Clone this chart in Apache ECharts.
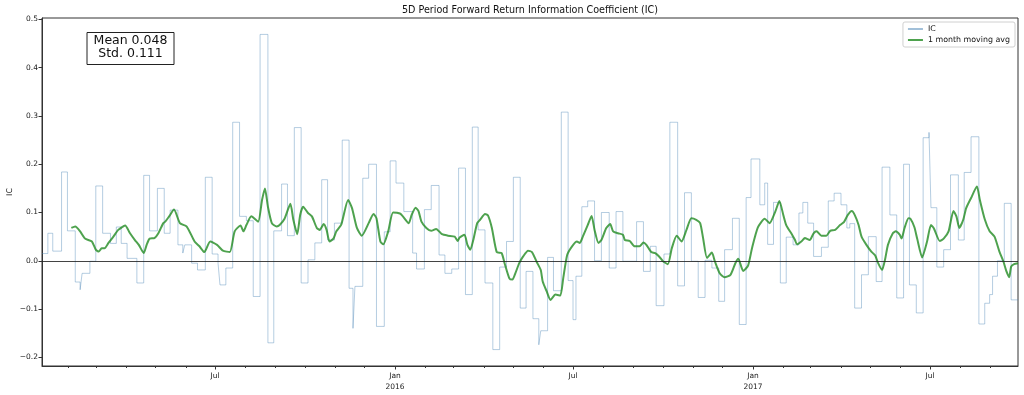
<!DOCTYPE html>
<html><head><meta charset="utf-8">
<script src="https://cdn.jsdelivr.net/npm/echarts@6/dist/echarts.min.js"></script>
<style>html,body{margin:0;padding:0;background:#fff}#c{width:1024px;height:395px}</style>
</head><body><div id="c"></div>
<script>
const titleText = '5D Period Forward Return Information Coefficient (IC)';
const statsLines = ['Mean 0.048', 'Std. 0.111'];

const icDates = ['2015-01-05','2015-01-11','2015-01-16','2015-01-25','2015-01-31','2015-02-08','2015-02-13','2015-02-15','2015-02-23','2015-03-01','2015-03-08','2015-03-16','2015-03-22','2015-03-27','2015-04-02','2015-04-12','2015-04-19','2015-04-25','2015-05-03','2015-05-10','2015-05-16','2015-05-24','2015-05-29','2015-05-31','2015-06-07','2015-06-13','2015-06-21','2015-06-28','2015-07-04','2015-07-06','2015-07-12','2015-07-19','2015-07-26','2015-08-02','2015-08-09','2015-08-16','2015-08-24','2015-08-30','2015-09-07','2015-09-13','2015-09-20','2015-09-27','2015-10-04','2015-10-11','2015-10-18','2015-10-24','2015-10-31','2015-11-08','2015-11-15','2015-11-19','2015-11-21','2015-11-29','2015-12-05','2015-12-13','2015-12-21','2015-12-27','2016-01-02','2016-01-10','2016-01-19','2016-01-23','2016-01-31','2016-02-07','2016-02-15','2016-02-21','2016-02-28','2016-03-06','2016-03-13','2016-03-20','2016-03-26','2016-04-02','2016-04-10','2016-04-17','2016-04-24','2016-05-01','2016-05-08','2016-05-14','2016-05-21','2016-05-27','2016-05-29','2016-06-05','2016-06-11','2016-06-19','2016-06-26','2016-07-01','2016-07-04','2016-07-10','2016-07-16','2016-07-23','2016-07-30','2016-08-07','2016-08-14','2016-08-21','2016-09-04','2016-09-11','2016-09-18','2016-09-24','2016-10-02','2016-10-08','2016-10-16','2016-10-23','2016-10-30','2016-11-06','2016-11-13','2016-11-20','2016-11-27','2016-12-03','2016-12-11','2016-12-18','2016-12-25','2016-12-30','2017-01-08','2017-01-13','2017-01-16','2017-01-22','2017-01-29','2017-02-04','2017-02-11','2017-02-17','2017-02-21','2017-02-26','2017-03-04','2017-03-12','2017-03-19','2017-03-25','2017-04-01','2017-04-07','2017-04-10','2017-04-15','2017-04-22','2017-04-29','2017-05-07','2017-05-13','2017-05-21','2017-05-28','2017-06-04','2017-06-10','2017-06-17','2017-06-24','2017-06-30','2017-07-02','2017-07-08','2017-07-15','2017-07-22','2017-07-30','2017-08-05','2017-08-12','2017-08-20','2017-08-26','2017-08-31','2017-09-03','2017-09-08','2017-09-15','2017-09-22','2017-09-29'];
const icValues = [0.015,0.057,0.02,0.184,0.062,-0.044,-0.06,-0.026,-0.001,0.155,0.057,0.036,0.07,0.036,0.005,-0.046,0.177,0.062,0.15,0.057,0.105,0.033,0.016,0.033,-0.005,-0.019,0.173,0.014,-0.005,-0.05,-0.015,0.287,0.092,0.083,-0.074,0.469,-0.17,0.062,0.159,0.052,0.276,-0.046,0.002,0.037,0.168,0.043,0.078,0.25,-0.057,-0.14,-0.053,0.171,0.2,-0.136,0.06,0.207,0.161,0.102,0.016,-0.017,0.106,0.156,0.012,-0.026,-0.017,0.192,-0.07,0.277,0.064,-0.046,-0.184,-0.013,0.04,0.173,-0.098,-0.022,-0.12,-0.174,-0.145,0.007,-0.062,0.308,-0.041,-0.122,-0.032,0.112,0.124,0.0,0.1,-0.015,0.102,-0.001,0.081,-0.022,0.03,-0.093,0.014,0.287,-0.052,0.141,-0.001,-0.076,0.001,-0.015,-0.084,0.023,0.088,-0.132,0.131,0.211,0.116,0.161,0.034,0.121,-0.046,0.049,0.033,0.099,0.121,0.078,0.009,0.028,0.124,0.14,0.116,0.068,0.077,-0.098,-0.029,0.05,-0.043,0.194,0.095,-0.077,0.2,-0.05,-0.108,0.255,0.266,0.11,-0.013,0.023,0.178,0.043,0.183,0.257,-0.131,-0.088,-0.07,-0.032,0.0,0.119,-0.081,-0.081];

const maDates = ['2015-02-04','2015-02-08','2015-02-13','2015-02-18','2015-02-25','2015-03-01','2015-03-04','2015-03-07','2015-03-10','2015-03-14','2015-03-19','2015-03-24','2015-03-31','2015-04-05','2015-04-10','2015-04-14','2015-04-19','2015-04-22','2015-04-25','2015-04-30','2015-05-04','2015-05-09','2015-05-11','2015-05-15','2015-05-20','2015-05-26','2015-06-02','2015-06-10','2015-06-15','2015-06-20','2015-06-26','2015-07-03','2015-07-09','2015-07-16','2015-07-21','2015-07-27','2015-07-30','2015-08-02','2015-08-07','2015-08-14','2015-08-18','2015-08-21','2015-08-24','2015-08-28','2015-09-02','2015-09-05','2015-09-10','2015-09-16','2015-09-19','2015-09-23','2015-09-26','2015-09-29','2015-10-04','2015-10-08','2015-10-13','2015-10-16','2015-10-20','2015-10-23','2015-10-26','2015-10-30','2015-11-02','2015-11-07','2015-11-14','2015-11-18','2015-11-23','2015-11-28','2015-12-05','2015-12-10','2015-12-13','2015-12-17','2015-12-20','2015-12-25','2015-12-30','2016-01-06','2016-01-09','2016-01-15','2016-01-18','2016-01-22','2016-01-25','2016-01-28','2016-02-02','2016-02-07','2016-02-12','2016-02-18','2016-02-24','2016-03-02','2016-03-05','2016-03-07','2016-03-12','2016-03-15','2016-03-18','2016-03-21','2016-03-25','2016-03-28','2016-04-02','2016-04-05','2016-04-09','2016-04-14','2016-04-19','2016-04-22','2016-04-27','2016-04-30','2016-05-03','2016-05-07','2016-05-11','2016-05-16','2016-05-20','2016-05-25','2016-05-29','2016-05-31','2016-06-04','2016-06-08','2016-06-13','2016-06-18','2016-06-21','2016-06-25','2016-06-30','2016-07-05','2016-07-08','2016-07-11','2016-07-16','2016-07-20','2016-07-23','2016-07-27','2016-07-30','2016-08-04','2016-08-08','2016-08-11','2016-08-16','2016-08-21','2016-08-23','2016-08-28','2016-09-02','2016-09-07','2016-09-11','2016-09-14','2016-09-19','2016-09-23','2016-09-27','2016-10-01','2016-10-06','2016-10-10','2016-10-15','2016-10-20','2016-10-25','2016-10-30','2016-11-04','2016-11-08','2016-11-11','2016-11-15','2016-11-20','2016-11-23','2016-11-28','2016-12-03','2016-12-09','2016-12-14','2016-12-17','2016-12-22','2016-12-27','2016-12-31','2017-01-06','2017-01-13','2017-01-18','2017-01-24','2017-01-28','2017-02-01','2017-02-04','2017-02-10','2017-02-13','2017-02-15','2017-02-20','2017-02-23','2017-02-28','2017-03-04','2017-03-07','2017-03-12','2017-03-17','2017-03-21','2017-03-26','2017-03-31','2017-04-04','2017-04-08','2017-04-12','2017-04-15','2017-04-19','2017-04-22','2017-04-27','2017-05-02','2017-05-06','2017-05-09','2017-05-13','2017-05-16','2017-05-19','2017-05-24','2017-05-27','2017-05-31','2017-06-02','2017-06-05','2017-06-09','2017-06-11','2017-06-15','2017-06-18','2017-06-23','2017-06-28','2017-07-02','2017-07-05','2017-07-11','2017-07-15','2017-07-20','2017-07-25','2017-07-28','2017-07-31','2017-08-04','2017-08-07','2017-08-12','2017-08-18','2017-08-21','2017-08-26','2017-08-31','2017-09-05','2017-09-10','2017-09-14','2017-09-17','2017-09-20','2017-09-22','2017-09-25','2017-09-29'];
const maValues = [0.068,0.071,0.061,0.046,0.04,0.023,0.019,0.026,0.026,0.037,0.05,0.064,0.073,0.057,0.043,0.033,0.016,0.033,0.046,0.047,0.057,0.078,0.081,0.092,0.106,0.078,0.071,0.04,0.03,0.018,0.04,0.033,0.021,0.018,0.061,0.073,0.061,0.074,0.092,0.081,0.126,0.15,0.112,0.078,0.071,0.074,0.087,0.118,0.085,0.055,0.095,0.112,0.099,0.092,0.068,0.064,0.076,0.064,0.04,0.046,0.061,0.075,0.126,0.109,0.068,0.052,0.078,0.097,0.088,0.04,0.034,0.061,0.1,0.098,0.092,0.078,0.095,0.11,0.103,0.081,0.068,0.062,0.066,0.055,0.052,0.05,0.041,0.048,0.054,0.033,0.023,0.043,0.078,0.085,0.097,0.094,0.068,0.018,0.016,-0.005,-0.037,-0.039,-0.026,-0.005,0.009,0.021,0.018,-0.003,-0.019,-0.043,-0.063,-0.081,-0.07,-0.072,-0.036,0.012,0.03,0.04,0.037,0.05,0.074,0.093,0.064,0.037,0.043,0.068,0.076,0.061,0.057,0.054,0.043,0.041,0.03,0.03,0.038,0.033,0.018,0.016,0.009,-0.001,-0.007,0.026,0.052,0.04,0.064,0.088,0.085,0.078,0.047,0.006,0.017,-0.001,-0.026,-0.034,-0.029,-0.005,0.004,-0.021,-0.01,0.026,0.069,0.087,0.078,0.103,0.124,0.095,0.074,0.054,0.043,0.034,0.041,0.047,0.043,0.057,0.061,0.052,0.052,0.062,0.064,0.074,0.08,0.095,0.103,0.095,0.074,0.05,0.033,0.019,0.011,-0.005,-0.019,0.002,0.033,0.057,0.061,0.054,0.046,0.068,0.088,0.087,0.07,0.045,0.007,0.04,0.074,0.067,0.041,0.046,0.061,0.103,0.092,0.068,0.085,0.109,0.13,0.154,0.126,0.086,0.061,0.05,0.019,-0.001,-0.021,-0.034,-0.012,-0.007,-0.005];

const yTicks = [-0.2,-0.1,0.0,0.1,0.2,0.3,0.4,0.5];
const xMajorDates = ['2015-07-01','2016-01-01','2016-07-01','2017-01-01','2017-07-01'];
const xMajorLabels = ['Jul','Jan\n2016','Jul','Jan\n2017','Jul'];
const xMin = '2015-01-05', xMax = '2017-09-29';

function ts(s){const p=s.split('-').map(Number);return Date.UTC(p[0],p[1]-1,p[2]);}
const majorTs = xMajorDates.map(ts);
const minorTs = [];
for (let y=2015; y<=2017; y++) for (let m=0; m<12; m++) {
  const t = Date.UTC(y,m,1);
  if (t > ts(xMin) && t <= ts(xMax)) minorTs.push(t);
}
const icData = icDates.map((d,i)=>[ts(d), icValues[i]]);
const maData = maDates.map((d,i)=>[ts(d), maValues[i]]);
const FONT = 'DejaVu Sans';
const chart = echarts.init(document.getElementById('c'), null, {renderer:'canvas'});
chart.setOption({
  animation:false,
  backgroundColor:'#fff',
  textStyle:{fontFamily:FONT},
  title:{text:titleText, left:530, top:5.5, textAlign:'center', padding:0,
    textStyle:{fontFamily:FONT,fontSize:9.6,fontWeight:'normal',color:'#111'}},
  grid:{left:42, right:6, top:18, bottom:29, show:true, borderColor:'#333', borderWidth:1,
    backgroundColor:'transparent', outerBoundsMode:'none', containLabel:false},
  legend:{orient:'vertical', right:9, top:22, itemWidth:15, itemHeight:8, itemGap:3,
    padding:[3,5,3,4], borderColor:'#d0d0d0', borderWidth:1, borderRadius:2, backgroundColor:'rgba(255,255,255,0.8)',
    itemStyle:{opacity:0},
    textStyle:{fontFamily:FONT,fontSize:7.9,color:'#111'}, data:['IC','1 month moving avg']},
  xAxis:[{type:'value', min:ts(xMin), max:ts(xMax), position:'bottom', scale:true,
    axisLine:{show:true,onZero:false,lineStyle:{color:'#333',width:1}},
    axisTick:{show:true, customValues:majorTs, length:3.5, lineStyle:{color:'#333'}},
    axisLabel:{show:true, customValues:majorTs, margin:4.5, fontFamily:FONT, fontSize:7.5, color:'#222', lineHeight:11,
      formatter:function(v){const i=majorTs.indexOf(v);return i>=0?xMajorLabels[i]:'';}},
    splitLine:{show:false}},
   {type:'value', min:ts(xMin), max:ts(xMax), position:'bottom', scale:true,
    axisLine:{show:false,onZero:false},
    axisTick:{show:true, customValues:minorTs, length:2, lineStyle:{color:'#333'}},
    axisLabel:{show:false}, splitLine:{show:false}}],
  yAxis:{type:'value', min:-0.218, max:0.503, name:'IC', nameLocation:'middle', nameGap:28, nameMoveOverlap:false,
    nameTextStyle:{fontFamily:FONT,fontSize:7.9,color:'#111'},
    axisLine:{show:true,onZero:false,lineStyle:{color:'#333',width:1}},
    axisTick:{show:true, customValues:yTicks, length:3.5, lineStyle:{color:'#333'}},
    axisLabel:{show:true, customValues:yTicks, margin:4, fontFamily:FONT, fontSize:7.5, color:'#222',
      formatter:function(v){return (v<0?'\u2212':'')+Math.abs(v).toFixed(1);}},
    splitLine:{show:false}},
  graphic:[
    {type:'rect', z:100, shape:{x:87, y:32.5, width:87, height:32}, style:{fill:'#fff', stroke:'#222', lineWidth:1}},
    {type:'text', z:101, style:{text:statsLines[0], x:130.5, y:41, align:'center', verticalAlign:'middle', fontFamily:FONT, fontSize:12.5, fill:'#111'}},
    {type:'text', z:101, style:{text:statsLines[1], x:130.5, y:53.6, align:'center', verticalAlign:'middle', fontFamily:FONT, fontSize:12.5, fill:'#111'}}
  ],
  series:[
    {name:'IC', type:'line', step:'end', symbol:'none', data:icData, xAxisIndex:0,
     lineStyle:{color:'#4682b4', width:0.8, opacity:0.5},
     markLine:{silent:true, symbol:'none', label:{show:false}, animation:false,
       lineStyle:{color:'#222', width:1, type:'solid', opacity:0.85}, data:[{yAxis:0}]}},
    {name:'1 month moving avg', type:'line', symbol:'none', smooth:0.2, data:maData, xAxisIndex:0,
     lineStyle:{color:'#228b22', width:2, opacity:0.8}}
  ]
});
</script></body></html>
